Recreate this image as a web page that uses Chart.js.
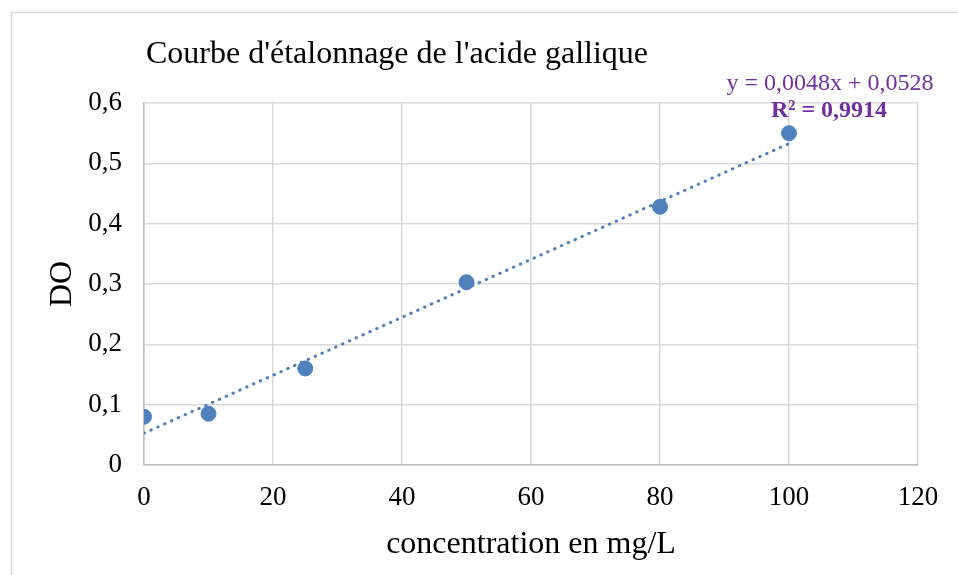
<!DOCTYPE html>
<html lang="fr">
<head>
<meta charset="utf-8">
<title>Courbe d'étalonnage</title>
<script src="https://cdn.jsdelivr.net/npm/chart.js@4.4.1/dist/chart.umd.min.js"></script>
<style>
  html, body { margin: 0; padding: 0; background: #fff; }
  #wrap { width: 958px; height: 575px; }
</style>
</head>
<body>
<div id="wrap"><canvas id="courbe" width="958" height="575"></canvas></div>
<script>
// Gamme étalon d'acide gallique : concentration (mg/L) -> densité optique
const concentrations = [0, 10, 25, 50, 80, 100];
const densites = [0.080, 0.085, 0.160, 0.303, 0.428, 0.550];

// Droite de régression affichée (Excel)
const PENTE = 0.0048;
const ORDONNEE = 0.0528;
const R2 = '0,9914';

const xTicks = [0, 20, 40, 60, 80, 100, 120];
const yTicks = [0, 0.1, 0.2, 0.3, 0.4, 0.5, 0.6];

const SERIF = "'Liberation Serif', 'Times New Roman', serif";
const BLEU = '#4f81bd';
const VIOLET = '#7030a0';
const GRILLE = '#d9d9d9';

const virgule = v => String(Math.round(v * 10) / 10).replace('.', ',');
const fmt4 = v => v.toFixed(4).replace('.', ',');

const xMin = concentrations[0];
const xMax = concentrations[concentrations.length - 1];
const tendance = [
  { x: xMin, y: PENTE * xMin + ORDONNEE },
  { x: xMax, y: PENTE * xMax + ORDONNEE },
];

// cadre, titre et équation de la courbe
const decor = {
  id: 'decor',
  beforeDraw(chart) {
    const { ctx } = chart;
    ctx.save();
    ctx.strokeStyle = GRILLE;
    ctx.lineWidth = 1.5;
    ctx.strokeRect(11.5, 12.5, 980, 600);
    ctx.restore();
  },
  afterDraw(chart) {
    const { ctx, scales } = chart;
    ctx.save();
    ctx.fillStyle = '#000';
    ctx.font = `32px ${SERIF}`;
    ctx.textBaseline = 'middle';
    ctx.textAlign = 'left';
    ctx.fillText("Courbe d'étalonnage de l'acide gallique", 146, 55);

    const cx = scales.x.getPixelForValue(xMax) + 41;
    ctx.textAlign = 'center';
    ctx.fillStyle = VIOLET;
    ctx.font = `24px ${SERIF}`;
    ctx.fillText(`y = ${fmt4(PENTE)}x + ${fmt4(ORDONNEE)}`, cx, 84);
    ctx.font = `bold 24px ${SERIF}`;
    ctx.fillText(`R² = ${R2}`, cx - 1, 111);
    ctx.restore();
  },
};

new Chart(document.getElementById('courbe'), {
  type: 'scatter',
  data: {
    datasets: [
      {
        label: 'DO',
        data: concentrations.map((c, i) => ({ x: c, y: densites[i] })),
        backgroundColor: BLEU,
        borderColor: BLEU,
        pointRadius: 7.5,
        pointHoverRadius: 7.5,
        order: 1,
      },
      {
        label: 'Linéaire (DO)',
        type: 'line',
        data: tendance,
        borderColor: BLEU,
        borderWidth: 3,
        borderDash: [0.5, 7],
        borderCapStyle: 'round',
        pointRadius: 0,
        fill: false,
        order: 2,
      },
    ],
  },
  options: {
    responsive: false,
    animation: false,
    layout: { padding: { left: 0, top: 103, right: 40, bottom: 0 } },
    plugins: {
      legend: { display: false },
      tooltip: { enabled: false },
    },
    scales: {
      x: {
        type: 'linear',
        min: 0, max: 120,
        afterBuildTicks: s => { s.ticks = xTicks.map(v => ({ value: v })); },
        afterFit: s => { s.height = 110; },
        grid: { color: GRILLE, lineWidth: 1.5, drawTicks: false },
        border: { color: '#bfbfbf', width: 1.5 },
        ticks: { color: '#000', padding: 17, font: { family: SERIF, size: 27 } },
        title: {
          display: true, text: 'concentration en mg/L', color: '#000',
          font: { family: SERIF, size: 32 }, padding: { top: 0, bottom: 11 },
        },
      },
      y: {
        min: 0, max: 0.6,
        afterBuildTicks: s => { s.ticks = yTicks.map(v => ({ value: v })); },
        afterFit: s => { s.width = 144; },
        grid: { color: GRILLE, lineWidth: 1.5, drawTicks: false },
        border: { color: '#bfbfbf', width: 1.5 },
        ticks: { color: '#000', padding: 22, font: { family: SERIF, size: 27 }, callback: v => virgule(v) },
        title: {
          display: true, text: 'DO', color: '#000',
          font: { family: SERIF, size: 32 }, padding: { top: 43, bottom: 0 },
        },
      },
    },
  },
  plugins: [decor],
});
</script>
</body>
</html>
